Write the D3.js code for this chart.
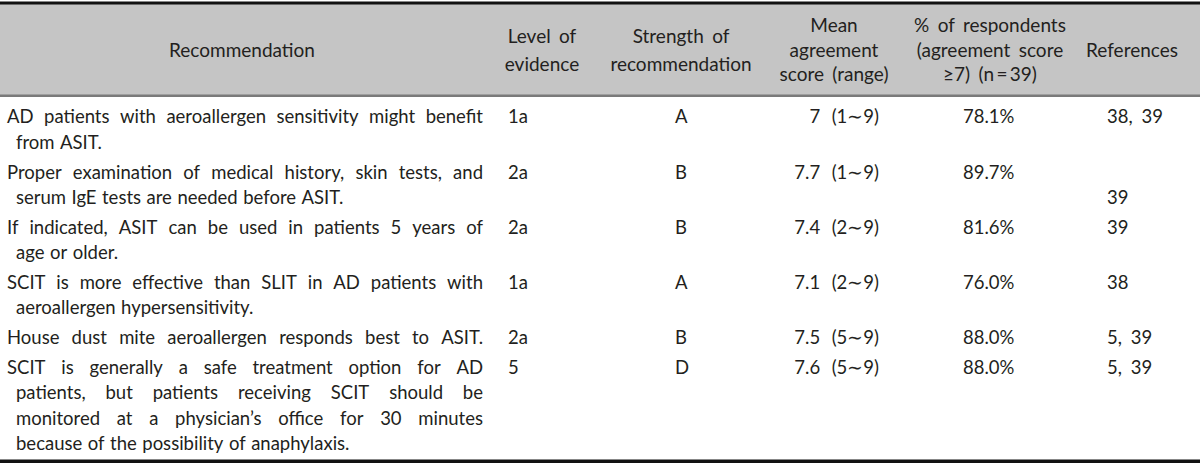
<!DOCTYPE html>
<html><head><meta charset="utf-8">
<script src="https://cdn.jsdelivr.net/npm/d3@7"></script>
<style>
body{margin:0;background:#fff}
text{font-family:Lato,"Noto Sans",sans-serif;font-size:18.5px;fill:#231f20;word-spacing:1px}
text.hd{font-size:19px;word-spacing:3.5px}
</style>
</head><body><svg id="c" width="1200" height="465"></svg>
<script>
const headers = [["Recommendation"], ["Level of","evidence"], ["Strength of","recommendation"], ["Mean","agreement","score (range)"], ["% of respondents","(agreement score","\u22657) (n\u2009=\u200939)"], ["References"]];
const recommendations = [
 ["AD patients with aeroallergen sensitivity might benefit", "from ASIT."],
 ["Proper examination of medical history, skin tests, and", "serum IgE tests are needed before ASIT."],
 ["If indicated, ASIT can be used in patients 5 years of", "age or older."],
 ["SCIT is more effective than SLIT in AD patients with", "aeroallergen hypersensitivity."],
 ["House dust mite aeroallergen responds best to ASIT."],
 ["SCIT is generally a safe treatment option for AD", "patients, but patients receiving SCIT should be", "monitored at a physician\u2019s office for 30 minutes", "because of the possibility of anaphylaxis."]
];
const levels = ["1a","2a","2a","1a","2a","5"];
const strengths = ["A","B","B","A","B","D"];
const meanScores = [7, 7.7, 7.4, 7.1, 7.5, 7.6];
const rangeMin = [1,1,2,2,5,5];
const rangeMax = [9,9,9,9,9,9];
const percentAgree = [78.1, 89.7, 81.6, 76.0, 88.0, 88.0];
const references = [["38, 39"], ["", "39"], ["39"], ["38"], ["5, 39"], ["5, 39"]];

const svg = d3.select("#c");
const W = 1200;

// header band and rules
svg.append("rect").attr("x",0).attr("y",4).attr("width",W).attr("height",91).attr("fill","#c5c5c5");
svg.append("rect").attr("x",0).attr("y",1.5).attr("width",W).attr("height",3).attr("fill","#111");
svg.append("rect").attr("x",0).attr("y",94.5).attr("width",W).attr("height",2.5).attr("fill","#7a7a7a");
svg.append("rect").attr("x",0).attr("y",459.5).attr("width",W).attr("height",3.5).attr("fill","#111");

// header text
const headerX = d3.scaleOrdinal().domain(d3.range(headers.length)).range([242, 542, 681, 834, 990, 1132]);
headers.forEach((lines,i)=>{
  const n = lines.length;
  const pitch = n===2 ? 28 : 24.5;
  lines.forEach((s,j)=>{
    svg.append("text").attr("class","hd").attr("x",headerX(i)).attr("y",50 + (j-(n-1)/2)*pitch).attr("dy","0.35em")
      .attr("text-anchor","middle").text(s);
  });
});

// body rows
const lh = 25.3, gap = 4.6;
const lineCounts = recommendations.map(r=>r.length);
const rowStart = [];
let acc = 117;
lineCounts.forEach((c,i)=>{ rowStart.push(acc); acc += c*lh + gap; });
const y = (row, line) => rowStart[row] + line*lh;

const SP = 5.5;
function drawLine(x0, x1, yy, str, forceJustify){
  const words = str.split(" ");
  const g = svg.append("g");
  const nodes = words.map(w=>g.append("text").attr("y",yy).attr("dy","0.35em").text(w));
  const widths = nodes.map(n=>n.node().getComputedTextLength());
  const natural = d3.sum(widths) + (words.length-1)*SP;
  const justify = forceJustify || natural > 0.88*(x1-x0);
  const sp = justify ? (x1 - x0 - d3.sum(widths)) / (words.length-1) : SP;
  let x = x0;
  nodes.forEach((n,i)=>{ n.attr("x",x); x += widths[i] + sp; });
}

const recL = 7, recR = 483, indent = 16;
recommendations.forEach((lines,i)=>{
  lines.forEach((s,j)=>{
    const x0 = j===0 ? recL : indent;
    drawLine(x0, recR, y(i,j), s, j < lines.length-1);
  });
});

const colX = d3.scaleOrdinal().domain(["level","strength","mean","pct","ref"]).range([508, 675, 879, 963, 1107]);
const fmtPct = d3.format(".1f");
levels.forEach((v,i)=> svg.append("text").attr("x",colX("level")).attr("y",y(i,0)).attr("dy","0.35em").text(v));
strengths.forEach((v,i)=> svg.append("text").attr("x",colX("strength")).attr("y",y(i,0)).attr("dy","0.35em").text(v));
meanScores.forEach((v,i)=> svg.append("text").attr("x",colX("mean")).attr("y",y(i,0)).attr("dy","0.35em")
  .attr("text-anchor","end").style("white-space","pre").text(`${v}  (${rangeMin[i]}\u223C${rangeMax[i]})`));
percentAgree.forEach((v,i)=> svg.append("text").attr("x",colX("pct")).attr("y",y(i,0)).attr("dy","0.35em").text(fmtPct(v)+"%"));
references.forEach((lines,i)=> lines.forEach((s,j)=>{ if(s) svg.append("text").attr("x",colX("ref")).attr("y",y(i,j)).attr("dy","0.35em").style("word-spacing","4px").text(s); }));
</script></body></html>
